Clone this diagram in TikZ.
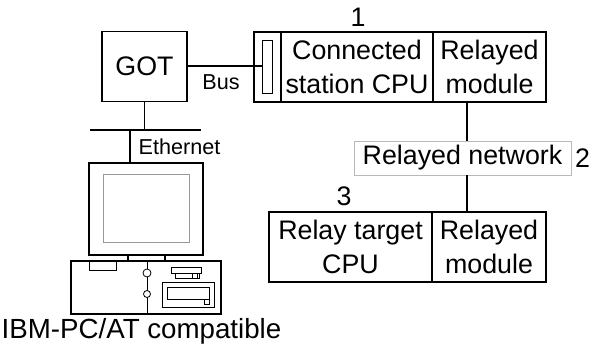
\documentclass[tikz,border=0pt]{standalone}
\usepackage{fontspec}
\setmainfont{Liberation Sans}
\usetikzlibrary{positioning}

\begin{document}
\begin{tikzpicture}
		[
		x = 1pt, y = -1pt,
		box/.style = {draw, line width = 1.2pt, outer sep = 0pt, inner sep = 0pt,
			minimum height = 70pt, align = center, font = \fontsize{26.8}{34}\selectfont},
		small/.style = {inner sep = 0pt, font = \fontsize{21.6}{25}\selectfont},
		big/.style = {inner sep = 0pt, font = \fontsize{27.7}{30}\selectfont},
		num/.style = {inner sep = 0pt, font = \fontsize{26.8}{30}\selectfont},
		wire/.style = {line width = 1.2pt},
		]
		
		\useasboundingbox (0,0) rectangle (592,345);
		
		% station side
		\node[box, minimum width = 85pt] (got) at (144.5,66.5) {GOT};
		\node[box, minimum width = 27pt] (slot) at (267.5,67) {};
		\node[box, minimum width = 152pt, right = 0pt of slot] (cpu) {Connected\\station CPU};
		\node[box, minimum width = 113pt, right = 0pt of cpu] (relay1) {Relayed\\module};
		\node[draw, line width = 0.8pt, minimum width = 10pt, minimum height = 53pt, inner sep = 0pt] (port) at (267,66.5) {};
		\node[num] (one) at (358,17) {1};
		
		% relayed network
		\node[box, draw = gray!55, line width = 0.8pt, minimum width = 217pt, minimum height = 34pt] (net) at (462.5,158) {Relayed network};
		\node[num, right = 4pt of net] (two) {2};
		
		% target side
		\node[box, minimum width = 163pt] (target) at (350.5,247) {Relay target\\CPU};
		\node[box, minimum width = 114pt, right = 0pt of target] (relay2) {Relayed\\module};
		\node[num] (three) at (344,196) {3};
		
		\coordinate (tap) at (467,0);
		\draw[wire] (relay1.south -| tap) -- (net.north -| tap);
		\draw[wire] (net.south -| tap) -- (relay2.north -| tap);
		
		% bus
		\draw[line width = 2pt] (got.east) -- (port.west);
		\node[small] (bus) at (221,82) {Bus};
		
		% ethernet
		\coordinate (lanL) at (90,130);
		\coordinate (lanR) at (201,130);
		\coordinate (drop) at (130,130);
		\draw[wire] (got.south) -- (got.south |- lanL);
		\draw[wire] (lanL) -- (lanR);
		\node[small] (eth) at (179.5,147) {Ethernet};
		
		% personal computer
		\node[draw, line width = 1.4pt, minimum width = 114pt, minimum height = 92pt, inner sep = 0pt] (monitor) at (146,209) {};
		\node[draw = gray!80, line width = 0.8pt, minimum width = 86pt, minimum height = 68pt, inner sep = 0pt] (screen) at (146,208) {};
		\draw[wire] (drop) -- (drop |- monitor.north);
		\node[draw, line width = 1.8pt, minimum width = 150pt, minimum height = 53pt, inner sep = 0pt] (base) at (146,287.5) {};
		\draw[wire] (128,255) -- (128,261);
		\draw[wire] (165,255) -- (165,261);
		\draw[line width = 0.8pt] (89,261) rectangle (116,270);
		\draw[line width = 0.8pt] (147,261) -- (147,314);
		\draw[line width = 0.8pt, fill = white] (147,273) circle (4);
		\draw[line width = 0.8pt, fill = white] (147,294) circle (3.5);
		\draw[line width = 0.8pt] (171,267) rectangle (201,273);
		\draw[line width = 0.8pt] (175,273) rectangle (199,278);
		\draw[line width = 0.8pt] (192,273) rectangle (197,278);
		\draw[line width = 1pt] (162,282) rectangle (214,307);
		\draw[line width = 0.8pt] (167,287) rectangle (209,299);
		\draw[line width = 0.8pt] (204,299) rectangle (209,304);
		\node[big] (pc) at (141.5,331) {IBM-PC/AT compatible};
		
		\end{tikzpicture}
\end{document}
